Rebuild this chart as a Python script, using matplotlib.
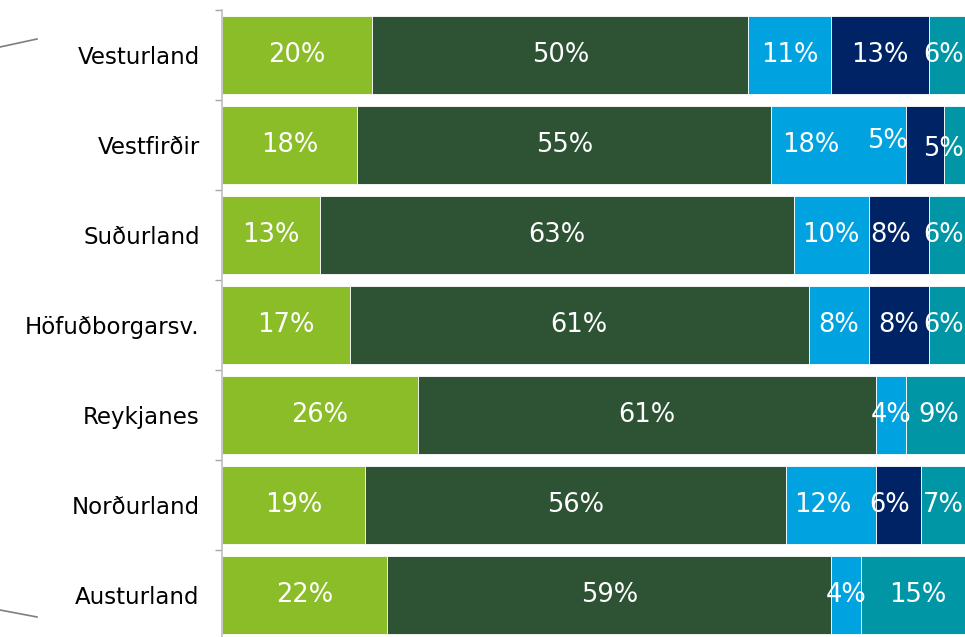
import matplotlib.pyplot as plt
from matplotlib.lines import Line2D
import numpy as np

regions = ["Vesturland", "Vestfirðir", "Suðurland", "Höfuðborgarsv.",
           "Reykjanes", "Norðurland", "Austurland"]

# shares (%) per segment, top to bottom
seg1 = [20, 18, 13, 17, 26, 19, 22]
seg2 = [50, 55, 63, 61, 61, 56, 59]
seg3 = [11, 18, 10, 8, 4, 12, 4]
seg4 = [13, 5, 8, 8, 0, 6, 0]
seg5 = [6, 5, 6, 6, 9, 7, 15]

colors = ["#8bbd28", "#2d5234", "#00a3e0", "#002366", "#0096a6"]

# manual nudges for a few labels (points, +y = up), like the moved labels in the original
nudge = {(1, 2): (-20, 0), (1, 3): (-27, 3), (1, 4): (-14, -3),
         (2, 3): (-6, 0), (5, 2): (-6, 0), (5, 3): (-7, 0), (5, 4): (-3, 0),
         (0, 4): (-6, 0), (2, 4): (-6, 0), (3, 4): (-6, 0), (4, 4): (-1, 0)}

fig = plt.figure(figsize=(9.65, 6.37), dpi=100)
ax = fig.add_axes([222/965, -3/637, 752/965, 630/637])

y = np.arange(len(regions))
data = [seg1, seg2, seg3, seg4, seg5]
left = np.zeros(len(regions))
for j, vals in enumerate(data):
    vals = np.array(vals, dtype=float)
    ax.barh(y, vals, left=left, height=0.867, color=colors[j],
            edgecolor="white", linewidth=0.6)
    for i, v in enumerate(vals):
        if v <= 0:
            continue
        dx, dy = nudge.get((i, j), (0, 0))
        ax.annotate(f"{int(v)}%", (left[i] + v/2, y[i]), xytext=(dx, dy),
                    textcoords="offset points", ha="center", va="center",
                    color="white", fontsize=18.5)
    left += vals

ax.set_xlim(0, 100)
ax.set_ylim(len(regions) - 0.5, -0.5)
ax.set_yticks(y)
ax.set_yticklabels(regions, fontsize=16.5)
ax.tick_params(axis="y", which="major", length=0, pad=16)
ax.set_yticks(np.arange(len(regions) + 1) - 0.5, minor=True)
ax.tick_params(axis="y", which="minor", length=5, color="#a6a6a6", width=1)
ax.set_xticks([])
for s in ["top", "right", "bottom"]:
    ax.spines[s].set_visible(False)
ax.spines["left"].set_color("#bfbfbf")
ax.spines["left"].set_linewidth(1.2)

# decorative connector lines at the left edge
fig.add_artist(Line2D([0, 37/965], [1 - 47/637, 1 - 39/637], color="#7f7f7f", lw=1.2))
fig.add_artist(Line2D([0, 37/965], [1 - 610/637, 1 - 617/637], color="#7f7f7f", lw=1.2))

plt.savefig("out.png", dpi=100)
